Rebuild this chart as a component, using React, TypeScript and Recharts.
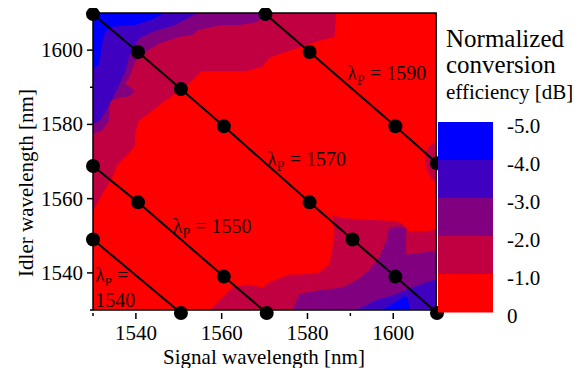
import { ScatterChart, Scatter, XAxis, YAxis } from "recharts";

const FONT = '"Liberation Serif", "Times New Roman", serif';

// axis ticks (nm)
const TICKS = [1530, 1540, 1550, 1560, 1570, 1580, 1590, 1600, 1610];
const LABELED = [1540, 1560, 1580, 1600];

// colour bar, top to bottom
const BAR_LABELS = ["-5.0", "-4.0", "-3.0", "-2.0", "-1.0", "0"];
const BAR_COLORS = ["#0000ff", "#4000c0", "#800080", "#c00040", "#ff0000"];

// contour regions, [signal, idler] in nm
const plotBox = [[1530, 1530], [1530, 1610], [1610, 1610], [1610, 1530]];

const blueTL = [[1530, 1610], [1546.5, 1610], [1544.0, 1608.4], [1539.8, 1606.8], [1534.4, 1606.3], [1532.8, 1604.9], [1532.1, 1601.5], [1531.4, 1596.1], [1530, 1595.1]];
const indigoTL = [[1530, 1610], [1554.5, 1610], [1553.2, 1609.3], [1549.1, 1606.8], [1543.7, 1604.9], [1540.7, 1603.1], [1538.6, 1598.8], [1537.6, 1594.3], [1536.2, 1590.8], [1534.6, 1587.1], [1533.0, 1583.6], [1531.6, 1580.9], [1530, 1580.1]];
const purpleTL = [[1530, 1610], [1569.5, 1610], [1568.4, 1607.6], [1564.2, 1606.8], [1560.0, 1606.8], [1554.7, 1605.5], [1553.0, 1604.1], [1550.0, 1603.6], [1545.3, 1601.7], [1543.0, 1600.1], [1539.8, 1596.9], [1538.4, 1592.4], [1537.4, 1591.1], [1539.8, 1588.9], [1538.4, 1587.6], [1536.0, 1587.1], [1534.0, 1586.3], [1533.7, 1580.9], [1532.1, 1578.3], [1530, 1577.5]];
const crimsonTL = [[1530, 1610], [1586.7, 1610], [1586.3, 1603.6], [1582.1, 1602.3], [1576.5, 1600.1], [1571.2, 1598.0], [1569.5, 1595.6], [1565.8, 1594.3], [1560.2, 1594.3], [1555.3, 1594.3], [1553.0, 1591.6], [1550.0, 1588.9], [1546.7, 1586.3], [1543.7, 1583.6], [1540.7, 1580.9], [1539.8, 1577.5], [1539.8, 1574.3], [1537.9, 1571.6], [1535.6, 1568.9], [1534.4, 1565.5], [1531.6, 1560.1], [1530, 1556.7]];
const crimsonBR = [[1610, 1530], [1557.2, 1530], [1560.2, 1533.5], [1562.6, 1536.1], [1565.8, 1536.9], [1569.5, 1536.1], [1571.2, 1537.5], [1572.8, 1538.3], [1575.8, 1539.6], [1578.1, 1539.6], [1582.8, 1540.1], [1585.1, 1542.3], [1585.8, 1546.8], [1586.3, 1551.3], [1585.8, 1555.6], [1588.1, 1554.8], [1593.7, 1554.3], [1600.7, 1554.0], [1602.1, 1553.2], [1603.7, 1551.3], [1607.7, 1551.3], [1610, 1551.6]];
const crimsonEdge = [[1610, 1575.3], [1608.4, 1574.3], [1607.4, 1572.1], [1607.4, 1569.5], [1608.4, 1566.3], [1610, 1564.1]];
const purpleBR = [[1610, 1530], [1576.5, 1530], [1578.1, 1534.3], [1582.8, 1535.3], [1588.1, 1536.1], [1591.4, 1538.0], [1594.4, 1540.7], [1596.7, 1544.1], [1598.4, 1548.7], [1599.1, 1552.3], [1601.4, 1552.5], [1603.0, 1552.3], [1603.0, 1544.9], [1606.7, 1545.5], [1610, 1546.0]];
const indigoBR = [[1610, 1530], [1591.4, 1530], [1596.0, 1532.7], [1600.7, 1534.3], [1604.4, 1536.1], [1607.7, 1537.5], [1610, 1538.3]];
const blueBR = [[1597.4, 1530], [1600.2, 1531.9], [1602.6, 1533.7], [1603.3, 1533.5], [1604.0, 1530]];

// measured points along each pump wavelength
const pump1540 = [[1530, 1549], [1550.5, 1529.2]];
const pump1550 = [[1530, 1568.8], [1540.5, 1559], [1560.5, 1539], [1570.5, 1529.2]];
const pump1570 = [[1530, 1609.7], [1540.5, 1599.5], [1550.5, 1589.5], [1560.5, 1579.5], [1580.5, 1559], [1590.5, 1549], [1600.5, 1539], [1610.2, 1529.2]];
const pump1590 = [[1570.2, 1609.7], [1580.5, 1599.5], [1600.5, 1579.5], [1610.2, 1569.5]];

// label anchors [signal, idler, text]
const pumpLabels: [number, number, string][] = [
  [1589.3, 1591.9, "1590"],
  [1570.6, 1568.9, "1570"],
  [1548.6, 1550.8, "1550"],
  [1530.5, 1537.6, ""],
];

const pts = (arr: number[][]) => arr.map(([s, i]) => ({ s, i }));

const fills: [number[][], string][] = [
  [plotBox, BAR_COLORS[4]],
  [crimsonTL, BAR_COLORS[3]],
  [crimsonBR, BAR_COLORS[3]],
  [crimsonEdge, BAR_COLORS[3]],
  [purpleTL, BAR_COLORS[2]],
  [purpleBR, BAR_COLORS[2]],
  [indigoTL, BAR_COLORS[1]],
  [indigoBR, BAR_COLORS[1]],
  [blueTL, BAR_COLORS[0]],
  [blueBR, BAR_COLORS[0]],
];

const Nothing = () => <g />;
const Dot = (p: any) => <circle cx={p.cx} cy={p.cy} r={7} fill="#000" />;

function XTick({ x, y, payload }: any) {
  const major = LABELED.includes(payload.value);
  return (
    <g>
      <line x1={x} y1={y} x2={x} y2={y + (major ? 6 : 3)} stroke="#000" strokeWidth={1.5} />
      {major && (
        <text x={x} y={y + 27} textAnchor="middle" fontSize={21} fontFamily={FONT} fill="#000">
          {payload.value}
        </text>
      )}
    </g>
  );
}

function YTick({ x, y, payload }: any) {
  const major = LABELED.includes(payload.value);
  return (
    <g>
      <line x1={x - (major ? 6 : 3)} y1={y} x2={x} y2={y} stroke="#000" strokeWidth={1.5} />
      {major && (
        <text x={x - 10} y={y + 7} textAnchor="end" fontSize={21} fontFamily={FONT} fill="#000">
          {payload.value}
        </text>
      )}
    </g>
  );
}

function PumpLabel({ cx, cy, payload }: any) {
  if (payload.t === "") {
    return (
      <g>
        <text x={cx} y={cy} fontSize={20} fontFamily={FONT} fill="#1a0000">
          λ<tspan fontSize={13} dy={4}>P</tspan>
          <tspan dy={-4}> =</tspan>
        </text>
        <text x={cx} y={cy + 25} fontSize={20} fontFamily={FONT} fill="#1a0000">1540</text>
      </g>
    );
  }
  return (
    <text x={cx} y={cy} fontSize={20} fontFamily={FONT} fill="#1a0000">
      λ<tspan fontSize={14} dy={5}>P</tspan>
      <tspan dy={-5}> = {payload.t}</tspan>
    </text>
  );
}

export default function App() {
  const labelData = pumpLabels.map(([s, i, t]) => ({ s, i, t }));
  const bandH = 38;
  const barTop = 114;
  return (
    <div style={{ position: "relative", width: 578, height: 360, fontFamily: FONT }}>
      <ScatterChart width={578} height={360} margin={{ top: 5, right: 149, bottom: 0, left: 0 }}>
        <XAxis
          type="number"
          dataKey="s"
          domain={[1530, 1610]}
          ticks={TICKS}
          interval={0}
          height={55}
          axisLine={false}
          tickLine={false}
          tickSize={0}
          tickMargin={0}
          tick={XTick}
        />
        <YAxis
          type="number"
          dataKey="i"
          domain={[1530, 1610]}
          ticks={TICKS}
          interval={0}
          width={85}
          axisLine={false}
          tickLine={false}
          tickSize={0}
          tickMargin={0}
          tick={YTick}
        />
        {fills.map(([poly, color], k) => (
          <Scatter
            key={`f${k}`}
            data={pts(poly)}
            line={{ fill: color, stroke: "none" }}
            shape={Nothing}
            isAnimationActive={false}
          />
        ))}
        <Scatter
          data={pts([...plotBox, plotBox[0]])}
          line={{ stroke: "#000", strokeWidth: 1.5, fill: "none" }}
          shape={Nothing}
          isAnimationActive={false}
        />
        {[pump1540, pump1550, pump1570, pump1590].map((p, k) => (
          <Scatter
            key={`p${k}`}
            data={pts(p)}
            line={{ stroke: "#000", strokeWidth: 2 }}
            shape={Dot}
            isAnimationActive={false}
          />
        ))}
        <Scatter data={labelData} shape={PumpLabel} isAnimationActive={false} />
      </ScatterChart>
      <svg
        width={578}
        height={368}
        style={{ position: "absolute", left: 0, top: 0, pointerEvents: "none" }}
      >
        <text x={256} y={356} textAnchor="middle" fontSize={21} fontFamily={FONT} fill="#000">
          Signal wavelength [nm]
        </text>
        <text
          transform="translate(25,175) rotate(-90)"
          textAnchor="middle"
          fontSize={21}
          fontFamily={FONT}
          fill="#000"
        >
          Idler wavelength [nm]
        </text>
        <text x={438} y={39} fontSize={25} fontFamily={FONT} fill="#000">Normalized</text>
        <text x={438} y={65} fontSize={25} fontFamily={FONT} fill="#000">conversion</text>
        <text x={438} y={91} fontSize={21} fontFamily={FONT} fill="#000">efficiency [dB]</text>
        {BAR_COLORS.map((c, k) => (
          <rect key={c} x={430} y={barTop + k * bandH} width={55} height={bandH + 0.5} fill={c} />
        ))}
        {BAR_LABELS.map((l, k) => (
          <text key={l} x={499} y={barTop + k * bandH + 11} fontSize={21} fontFamily={FONT} fill="#000">
            {l}
          </text>
        ))}
      </svg>
    </div>
  );
}
